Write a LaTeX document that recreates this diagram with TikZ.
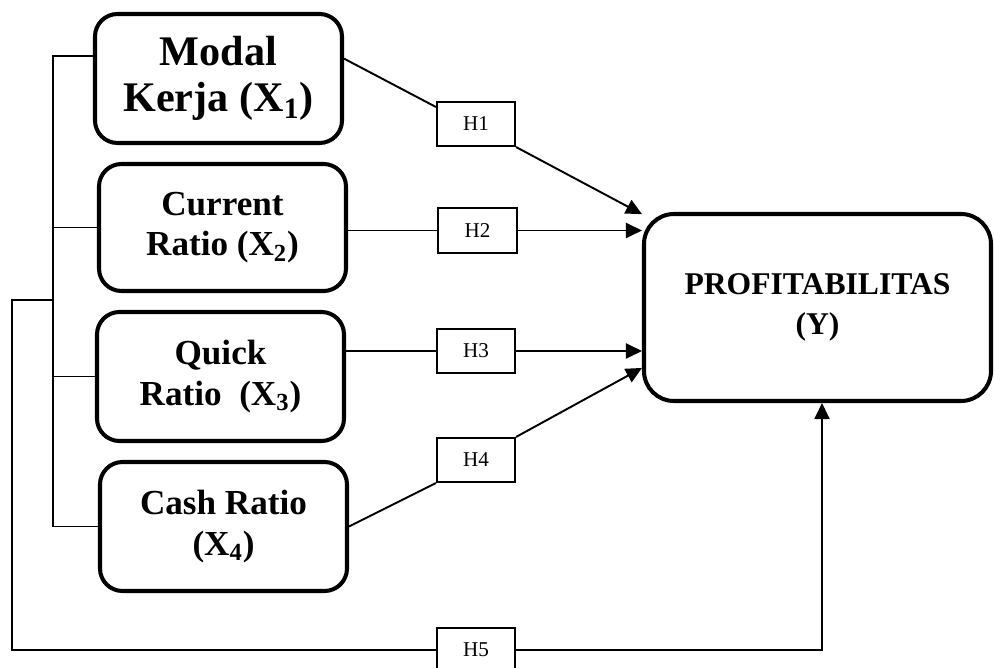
\documentclass[tikz,border=0pt]{standalone}
\usepackage{fontspec}
\setmainfont{Liberation Serif}
\usetikzlibrary{arrows.meta}

\begin{document}
\begin{tikzpicture}[
    >={Triangle[length=0.32cm, width=0.3cm]},
    line width=1.1pt,
    varbox/.style={draw, line width=2.3pt, rounded corners=0.45cm,
      minimum width=4.94cm, minimum height=2.58cm, align=center,
      font=\bfseries\fontsize{20}{23}\selectfont},
    hbox/.style={draw, line width=0.9pt, minimum width=1.57cm,
      minimum height=0.89cm, font=\fontsize{12}{14}\selectfont}
  ]
  \useasboundingbox (0,0) rectangle (19.88,13.36);

  % independent variables
  \node[varbox, font=\bfseries\fontsize{24}{26}\selectfont] (mk) at (4.37, 11.79)
    {Modal\\Kerja (X\textsubscript{1})};
  \node[varbox, minimum height=2.54cm] (cr) at (4.45, 8.81)
    {Current\\Ratio (X\textsubscript{2})};
  \node[varbox] (qr) at (4.41, 5.83) {Quick\\Ratio\ \ (X\textsubscript{3})};
  \node[varbox] (csr) at (4.47, 2.83) {Cash Ratio\\(X\textsubscript{4})};

  % dependent variable
  \node[draw, line width=2.3pt, rounded corners=0.6cm, minimum width=6.94cm,
    minimum height=3.74cm, align=center,
    font=\bfseries\fontsize{18}{23}\selectfont] (y) at (16.35, 7.21)
    {PROFITABILITAS\\(Y)};

  % hypotheses
  \node[hbox] (h1) at (9.52, 10.88) {H1};
  \node[hbox] (h2) at (9.55, 8.75) {H2};
  \node[hbox] (h3) at (9.52, 6.34) {H3};
  \node[hbox] (h4) at (9.52, 4.16) {H4};
  \node[hbox] (h5) at (9.52, 0.36) {H5};

  % partial paths
  \draw (mk.9) -- (h1.157);
  \draw[->] (h1.south east) -- (y.152);
  \draw (h2.west -| cr.east) -- (h2.west);
  \draw[->] (h2.east) -- (h2.east -| y.west);
  \draw (h3.west -| qr.east) -- (h3.west);
  \draw[->] (h3.east) -- (h3.east -| y.west);
  \draw (csr.east) -- (h4.south west);
  \draw[->] (h4.north east) -- (y.199);

  % simultaneous path
  \coordinate (bus) at (1.06, 12.24);
  \coordinate (loop) at (0.24, 7.36);
  \draw (mk.170) -| (bus |- csr.west) -- (csr.west);
  \draw (cr.west) -- (cr.west -| bus);
  \draw (qr.west) -- (qr.west -| bus);
  \draw (loop -| bus) -- (loop) |- (h5.west);
  \draw[->] (h5.east) -| ([xshift=0.09cm]y.south);
\end{tikzpicture}
\end{document}
